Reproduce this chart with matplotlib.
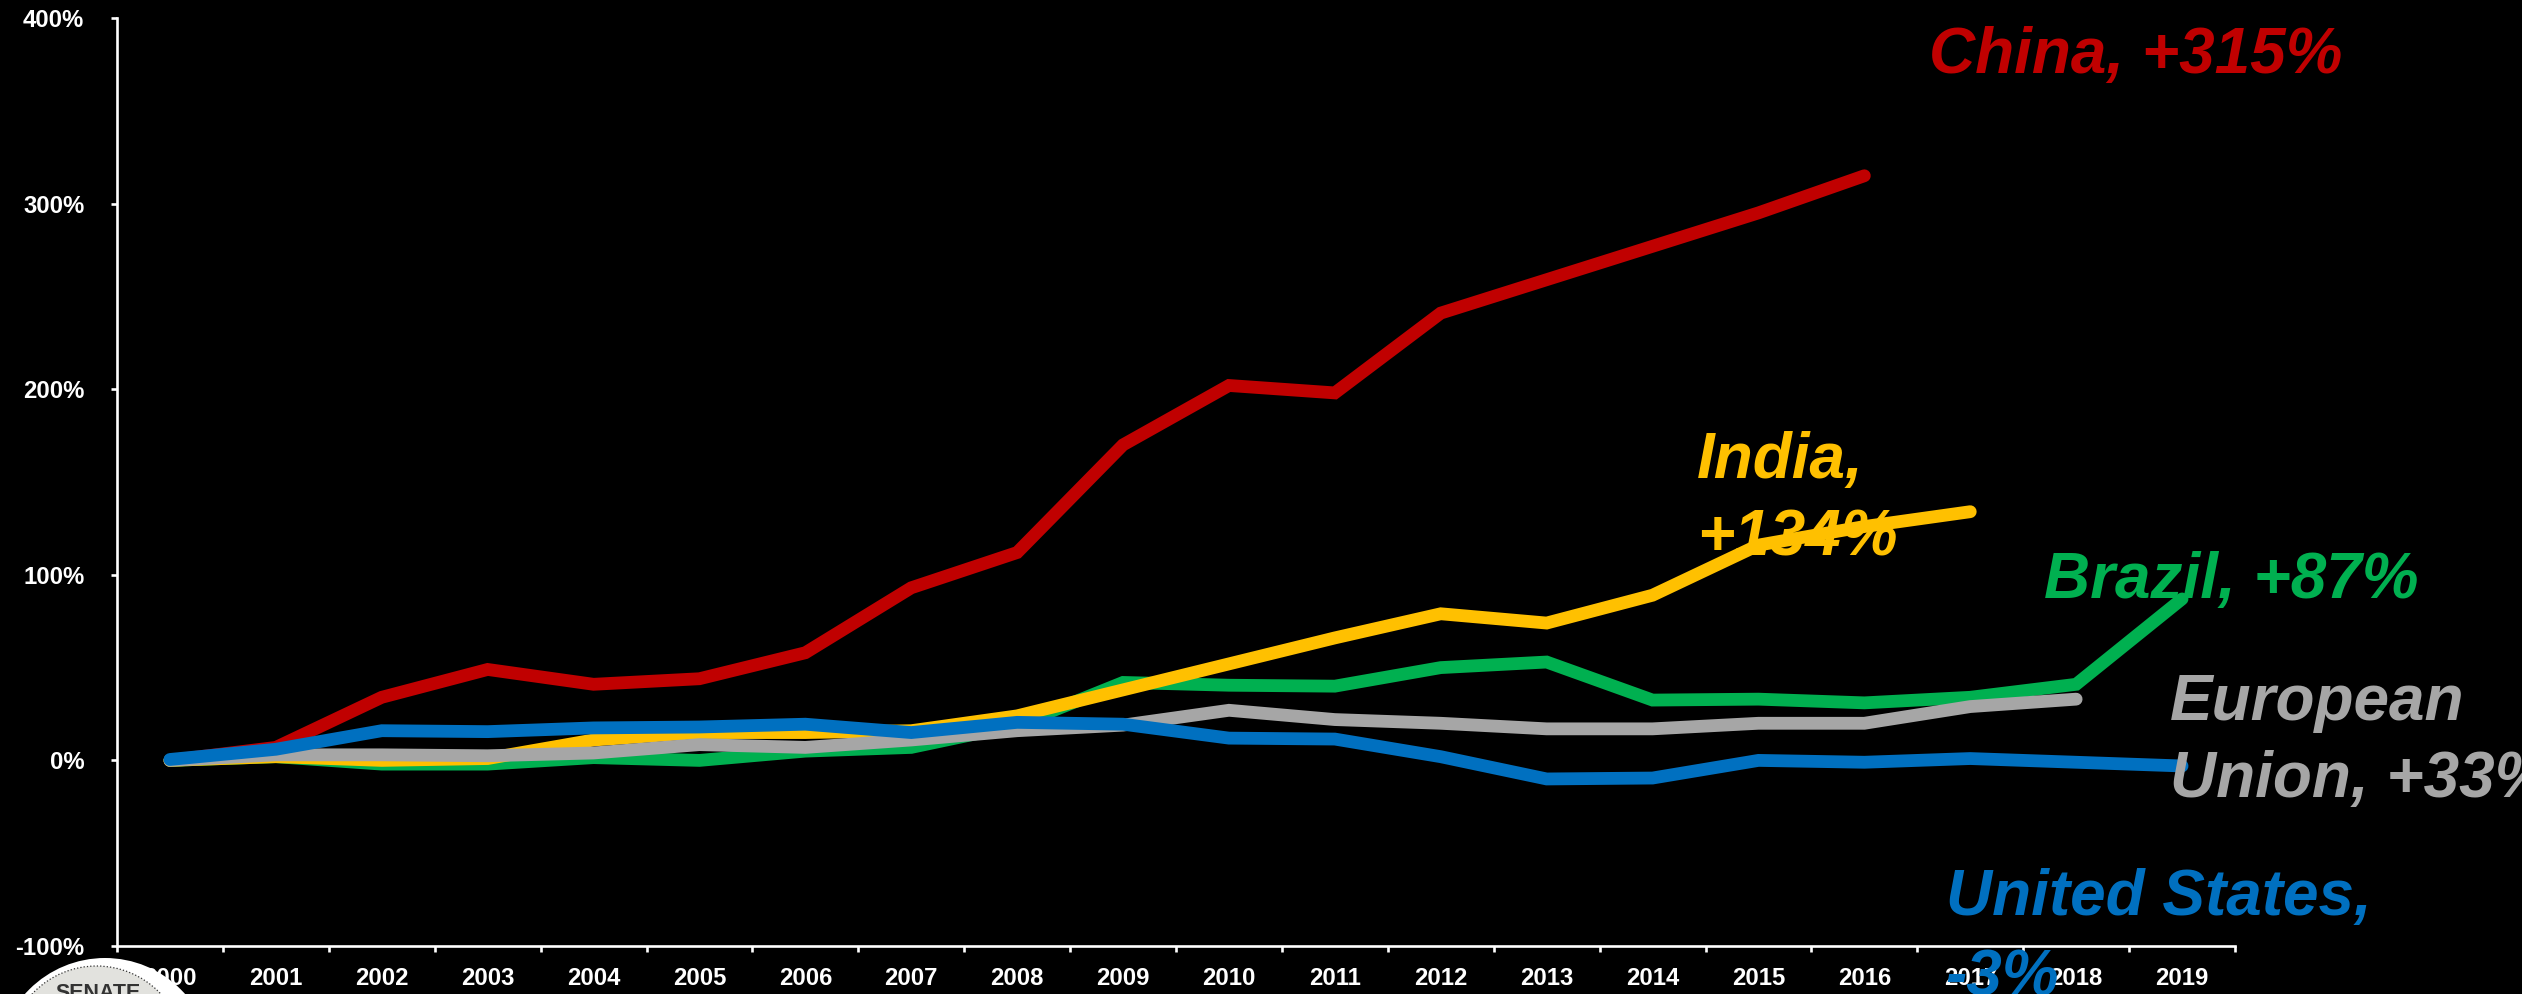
import matplotlib
matplotlib.use("Agg")
import matplotlib.pyplot as plt
import numpy as np
from matplotlib.patches import Circle

# Change since 2000, in percent
years = [str(y) for y in range(2000, 2020)]
china = [0, 7, 34, 49, 41, 44, 58, 93, 112, 170, 202, 198, 241, 259, 277, 295, 315]
india = [0, 2, 0, 1, 11, 15, 15, 16, 24, 38, 52, 66, 79, 74, 89, 116, 126, 134]
brazil = [0, 2, -2, -2, 1.5, 0, 5, 7, 19, 42, 40.5, 40, 50, 53, 32.5, 33, 31, 34, 41, 87]
eu = [0, 3, 3, 2.5, 4, 8.5, 7, 11, 16, 19, 27, 22, 20, 17, 17, 20, 20, 29, 33]
usa = [0.5, 6, 16, 15.5, 17.5, 18, 19.5, 15, 20.5, 19.5, 12, 11.5, 2, -10, -9.5, 0, -1, 1, -1, -3]
yticks = [-100, 0, 100, 200, 300, 400]

RED = "#C00000"
YELLOW = "#FFC000"
GREEN = "#00B050"
GREY = "#A6A6A6"
BLUE = "#0070C0"
FONT = "Liberation Sans"

W, H = 2522, 994
fig = plt.figure(figsize=(W / 100, H / 100), dpi=100, facecolor="black")
ax = fig.add_axes([117 / W, 1 - 946 / H, (2235 - 117) / W, (946 - 18) / H], facecolor="black")

# Order matters, the blue line sits on top
for values, color in [(china, RED), (brazil, GREEN), (india, YELLOW), (eu, GREY), (usa, BLUE)]:
    ax.plot(np.arange(len(values)), values, color=color, lw=9.2,
            solid_capstyle="round", solid_joinstyle="miter")

ax.set_xlim(-0.5, 19.5)
ax.set_ylim(-100, 400)
for side in ["top", "right"]:
    ax.spines[side].set_visible(False)
for side in ["left", "bottom"]:
    ax.spines[side].set_color("white")
    ax.spines[side].set_linewidth(1.9)

ax.set_yticks(yticks, [f"{v}%" for v in yticks])
ax.set_xticks(np.arange(-0.5, 20), [])
ax.set_xticks(np.arange(20), years, minor=True)
ax.tick_params(axis="both", which="major", color="white", width=1.9, length=4.5)
ax.tick_params(axis="x", which="minor", length=0, pad=15)
ax.tick_params(axis="y", pad=19)
for label in ax.get_xticklabels(minor=True) + ax.get_yticklabels():
    label.set(color="white", fontsize=17.2, fontweight="bold", family=FONT)


def label(x, y, text, color):
    fig.text(x / W, 1 - y / H, text, color=color, fontsize=46, fontweight="bold",
             fontstyle="italic", family=FONT, ha="left", va="baseline")


label(1929, 73, "China, +315%", RED)
label(1697, 478, "India,", YELLOW)
label(1697, 555, "+134%", YELLOW)
label(2044, 598, "Brazil, +87%", GREEN)
label(2170, 720, "European", GREY)
label(2170, 797, "Union, +33%", GREY)
label(1946, 915, "United States,", BLUE)
label(1945, 995, "-3%", BLUE)

# Badge cut off by the bottom edge
to_inch = fig.dpi_scale_trans
fig.add_artist(Circle((1.05, (H - 1065) / 100), 1.07, transform=to_inch, fc="white", ec="none", zorder=1))
fig.add_artist(Circle((0.965, (H - 1054) / 100), 0.88, transform=to_inch, fc="#E2E2DE", ec="#333333",
                      lw=0.9, ls=":", zorder=1.1))
fig.text(98 / W, 1 - 999 / H, "SENATE", color="#333333", fontsize=15.5, fontweight="bold", family=FONT,
         ha="center", va="baseline", zorder=1.2)

fig.savefig("out.png", dpi=100, facecolor="black")
